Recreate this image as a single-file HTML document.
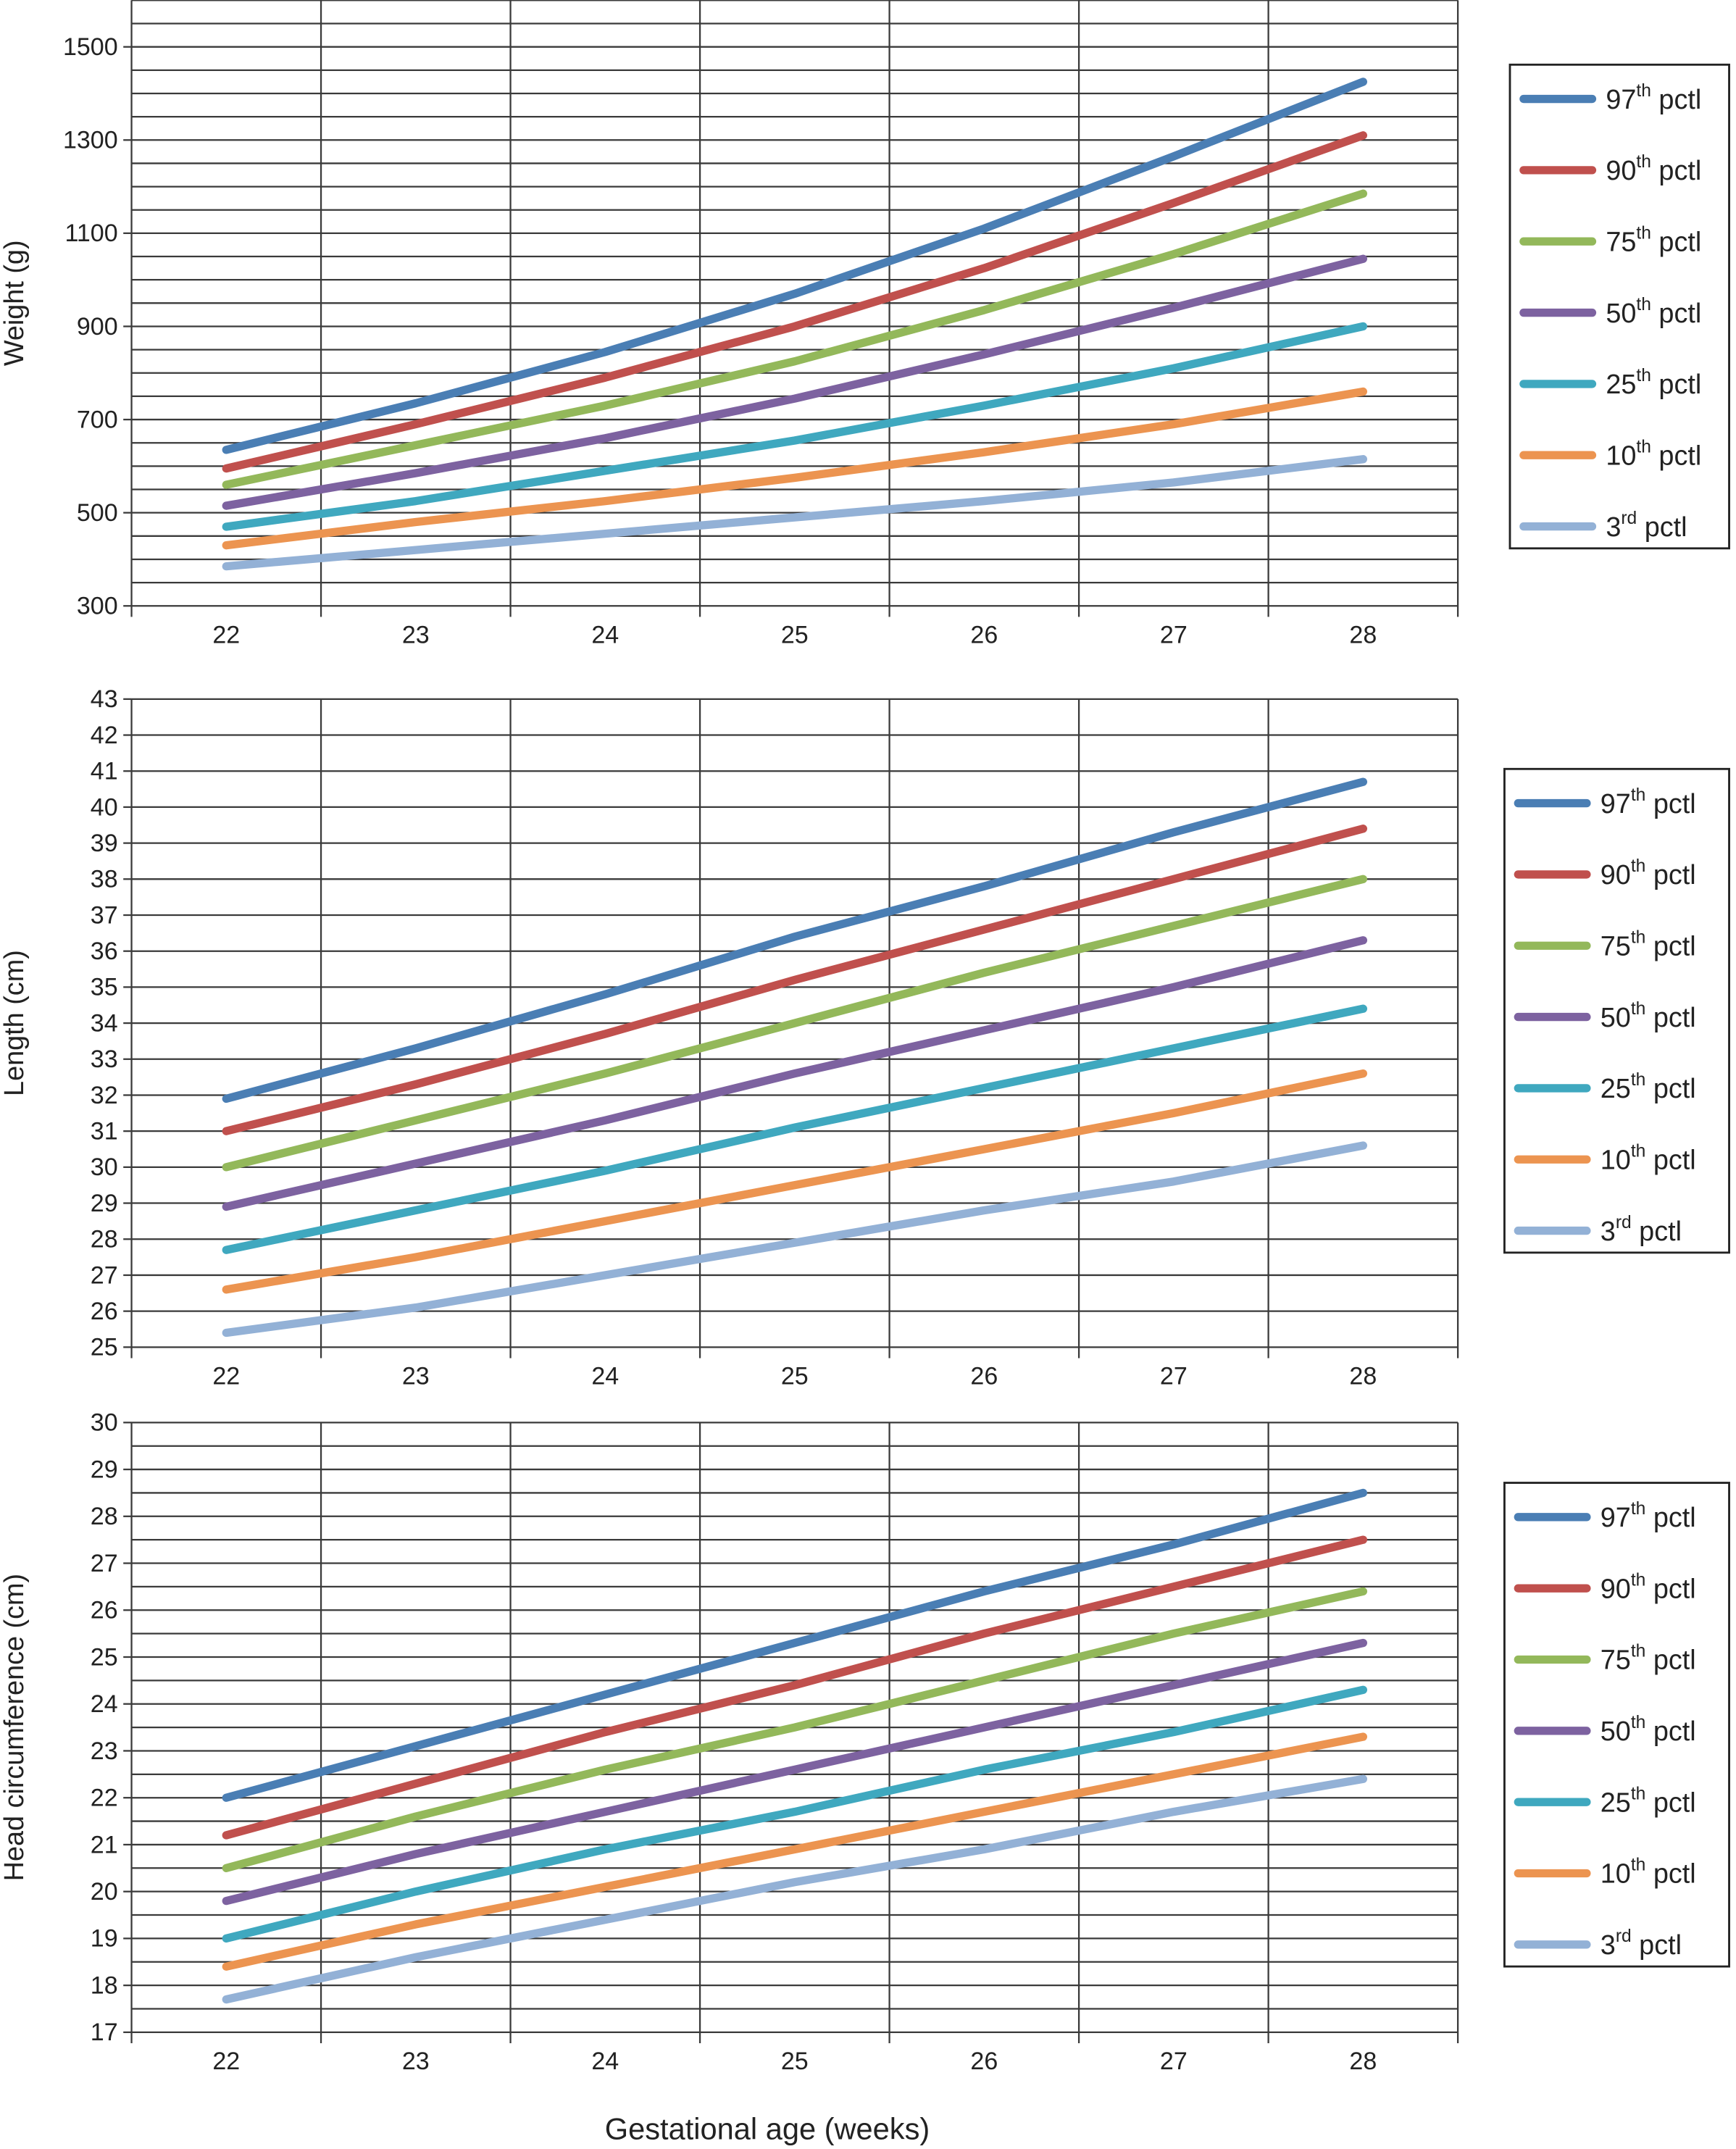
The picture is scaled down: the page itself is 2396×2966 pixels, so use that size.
<!DOCTYPE html>
<html><head><meta charset="utf-8"><style>
html,body{margin:0;padding:0;background:#fff}
svg{display:block}
text{font-family:"Liberation Sans",sans-serif;fill:#222}
</style></head><body>
<svg id="chart" width="2396" height="2966" viewBox="0 0 1267 1568" xmlns="http://www.w3.org/2000/svg"></svg>
<script>
const weeks = [22,23,24,25,26,27,28];
const pctlLabels = ["97","90","75","50","25","10","3"];
const pctlSup = ["th","th","th","th","th","th","rd"];
const colors = ["#4a7eb4","#c0504d","#93b85a","#7d62a0","#3fa8bf","#ec9450","#93b1d6"];
const weight97 = [635,735,845,970,1110,1265,1425];
const weight90 = [595,690,790,900,1025,1165,1310];
const weight75 = [560,645,730,825,935,1055,1185];
const weight50 = [515,585,660,745,840,940,1045];
const weight25 = [470,525,590,655,730,810,900];
const weight10 = [430,480,525,575,630,690,760];
const weight3 = [385,420,455,490,525,565,615];
const length97 = [31.9,33.3,34.8,36.4,37.8,39.3,40.7];
const length90 = [31.0,32.3,33.7,35.2,36.6,38.0,39.4];
const length75 = [30.0,31.3,32.6,34.0,35.4,36.7,38.0];
const length50 = [28.9,30.1,31.3,32.6,33.8,35.0,36.3];
const length25 = [27.7,28.8,29.9,31.1,32.2,33.3,34.4];
const length10 = [26.6,27.5,28.5,29.5,30.5,31.5,32.6];
const length3 = [25.4,26.1,27.0,27.9,28.8,29.6,30.6];
const head97 = [22.0,23.1,24.2,25.3,26.4,27.4,28.5];
const head90 = [21.2,22.3,23.4,24.4,25.5,26.5,27.5];
const head75 = [20.5,21.6,22.6,23.5,24.5,25.5,26.4];
const head50 = [19.8,20.8,21.7,22.6,23.5,24.4,25.3];
const head25 = [19.0,20.0,20.9,21.7,22.6,23.4,24.3];
const head10 = [18.4,19.3,20.1,20.9,21.7,22.5,23.3];
const head3 = [17.7,18.6,19.4,20.2,20.9,21.7,22.4];
const weightTicks = [300,500,700,900,1100,1300,1500];
const lengthTicks = [25,26,27,28,29,30,31,32,33,34,35,36,37,38,39,40,41,42,43];
const headTicks = [17,18,19,20,21,22,23,24,25,26,27,28,29,30];

const svg = document.getElementById('chart');
const NS = "http://www.w3.org/2000/svg";
function mk(tag, attrs, parent){const e=document.createElementNS(NS,tag);for(const k in attrs)e.setAttribute(k,attrs[k]);(parent||svg).appendChild(e);return e;}

const xL=96, xR=1064;
function xs(w){return xL+(w-21.5)/7*(xR-xL);}

function panel(name, series, ymin, ymax, yTop, yBot, gridStep, ticks, title, legTop, legLeft){
  const g=mk('g',{});
  
  
  const ys=v=>yBot-(v-ymin)/(ymax-ymin)*(yBot-yTop);
  for(let v=ymin; v<=ymax+1e-9; v+=gridStep){
    const l=mk('line',{x1:xL,x2:xR,y1:ys(v),y2:ys(v),stroke:'#3a3a3a','stroke-width':1.2},g);
    
    
  }
  for(let i=0;i<=7;i++){
    const x=xL+i*(xR-xL)/7;
    const l=mk('line',{x1:x,x2:x,y1:yTop,y2:yBot+8,stroke:'#3a3a3a','stroke-width':1.2},g);
    
    
  }
  ticks.forEach(t=>{
    const tx=mk('text',{x:86,y:ys(t)+6,'text-anchor':'end','font-size':18},g);
    tx.textContent=t;
    
    
    mk('line',{x1:90,x2:xL,y1:ys(t),y2:ys(t),stroke:'#3a3a3a','stroke-width':1.2},g);
  });
  weeks.forEach(w=>{
    const tx=mk('text',{x:xs(w),y:yBot+27,'text-anchor':'middle','font-size':18},g);
    tx.textContent=w;
    
    
  });
  const yt=mk('text',{x:0,y:0,'text-anchor':'middle','font-size':20,transform:`translate(17,${(yTop+yBot)/2}) rotate(-90)`},g);
  yt.textContent=title;
  
  
  series.forEach((s,i)=>{
    const p=mk('polyline',{points:s.map((v,j)=>xs(weeks[j])+','+ys(v)).join(' '),fill:'none',stroke:colors[i],'stroke-width':6,'stroke-linecap':'round','stroke-linejoin':'round'},g);
    
    
  });
  const box=mk('rect',{x:legLeft,y:legTop,width:1262-legLeft,height:353,fill:'#fff',stroke:'#222','stroke-width':1.5},g);
  
  
  for(let i=0;i<7;i++){
    const cy=legTop+25+i*52;
    const ln=mk('line',{x1:legLeft+10,x2:legLeft+60,y1:cy,y2:cy,stroke:colors[i],'stroke-width':6,'stroke-linecap':'round'},g);
    
    
    const t=mk('text',{x:legLeft+70,y:cy+7,'font-size':20},g);
    
    
    t.appendChild(document.createTextNode(pctlLabels[i]));
    const sup=mk('tspan',{'font-size':13,dy:-9},t);
    sup.textContent=pctlSup[i];
    const rest=mk('tspan',{dy:9},t);
    rest.textContent=' pctl';
  }
}
panel('weight',[weight97,weight90,weight75,weight50,weight25,weight10,weight3],300,1600,0,442,50,weightTicks,'Weight (g)',47,1102);
panel('length',[length97,length90,length75,length50,length25,length10,length3],25,43,510,983,1,lengthTicks,'Length (cm)',561,1098);
panel('head',[head97,head90,head75,head50,head25,head10,head3],17,30,1038,1483,0.5,headTicks,'Head circumference (cm)',1082,1098);
const xt=mk('text',{x:579,y:1561,'text-anchor':'middle','font-size':22});
xt.textContent='Gestational age (weeks)';
xt.setAttribute('x', 560);


</script>
</body></html>
